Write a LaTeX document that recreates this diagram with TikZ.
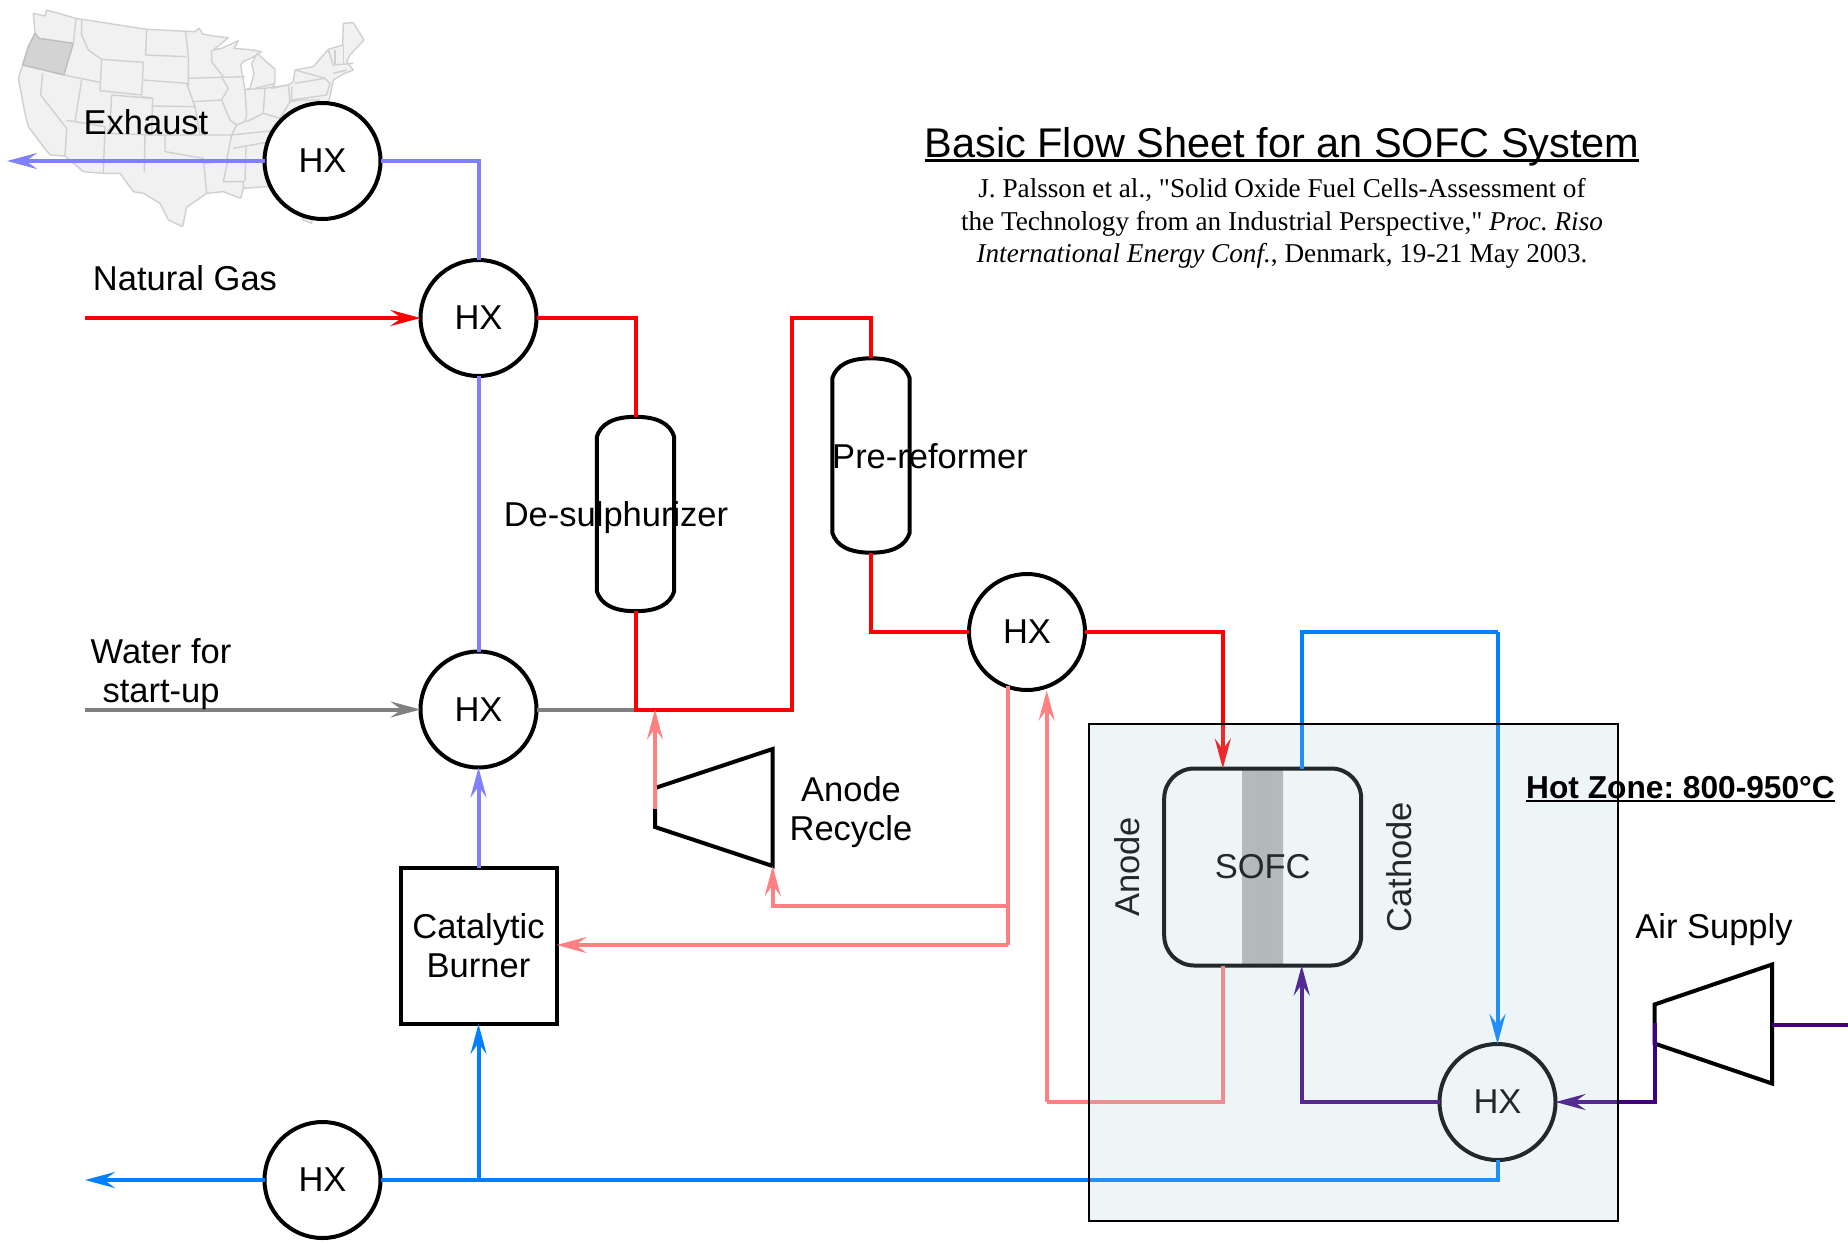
\documentclass[tikz,border=0pt]{standalone}
\usepackage{fontspec}
\setmainfont{Liberation Sans}
\newfontfamily\citefont{Liberation Serif}
\usepackage{xcolor}
\usepackage{tikz}
\usetikzlibrary{arrows.meta,positioning,calc}
\definecolor{exhaustcol}{RGB}{128,128,255}
\definecolor{gascol}{RGB}{255,0,0}
\definecolor{watercol}{RGB}{128,128,128}
\definecolor{recyclecol}{RGB}{255,128,128}
\definecolor{airhotcol}{RGB}{0,128,255}
\definecolor{aircol}{RGB}{64,0,128}
\definecolor{zonecol}{RGB}{165,205,215}
\definecolor{mapfill}{RGB}{241,241,241}
\definecolor{mapline}{RGB}{208,208,208}
\definecolor{oregonfill}{RGB}{211,211,211}
\definecolor{oregonline}{RGB}{190,190,190}
\definecolor{stripeedge}{RGB}{198,198,198}
\definecolor{stripemid}{RGB}{180,180,180}
\newcommand{\lowbar}[1]{\setbox0=\hbox{#1}\rlap{\rule[-0.11em]{\wd0}{0.075em}}\box0}
\newcommand{\vesselpath}[1]{%
  \draw[vesselline] ($(#1.north west)+(0,20)$) .. controls ($(#1.north west)+(4,7)$) and ($(#1.north)+(-22,0)$) .. (#1.north)
    .. controls ($(#1.north)+(22,0)$) and ($(#1.north east)+(-4,7)$) .. ($(#1.north east)+(0,20)$)
    -- ($(#1.south east)+(0,-20)$) .. controls ($(#1.south east)+(-4,-7)$) and ($(#1.south)+(22,0)$) .. (#1.south)
    .. controls ($(#1.south)+(-22,0)$) and ($(#1.south west)+(4,-7)$) .. ($(#1.south west)+(0,-20)$) -- cycle;}

\begin{document}
\frenchspacing
\begin{tikzpicture}[x=1pt,y=-1pt,>={Stealth[length=30pt,width=16pt,inset=11pt]},
    textlabel/.style={align=center,inner sep=0pt,font=\fontsize{34.5}{39}\selectfont},
    hxnode/.style={circle,draw=black,line width=4pt,fill=white,minimum size=116pt,inner sep=0pt,outer sep=0pt,
                   font=\fontsize{34.5}{39}\selectfont},
    vessel/.style={rectangle,minimum width=77pt,minimum height=194pt,inner sep=0pt},
    vesselline/.style={draw=black,fill=white,line width=4pt},
    machine/.style={draw=black,fill=white,line width=4pt,line join=miter},
    burner/.style={rectangle,draw=black,line width=4pt,fill=white,minimum size=156pt,inner sep=0pt,outer sep=0pt,
                   align=center,font=\fontsize{34.5}{39}\selectfont},
    sofcnode/.style={rectangle,rounded corners=30pt,draw=black,line width=4pt,fill=white,
                   minimum width=197pt,minimum height=197pt,inner sep=0pt,font=\fontsize{34.5}{39}\selectfont,
                   path picture={\shade[sharp corners,left color=stripeedge,right color=stripeedge,middle color=stripemid]
                     ([xshift=-20.3pt]path picture bounding box.north) rectangle ([xshift=20.3pt]path picture bounding box.south);}},
    zonebox/.style={rectangle,draw=black,line width=2pt,fill=zonecol,fill opacity=0.2,
                   minimum width=529pt,minimum height=497pt,inner sep=0pt},
    flow/.style={line width=4pt,line join=miter},
    exhaustflow/.style={flow,exhaustcol},
    gasflow/.style={flow,gascol},
    waterflow/.style={flow,watercol},
    recycleflow/.style={flow,recyclecol},
    hotairflow/.style={flow,airhotcol},
    airflow/.style={flow,aircol}]
\useasboundingbox (0,0) rectangle (1848,1243);

% map behind the exhaust stack
\begin{scope}[x=0.3333pt,y=-0.3333pt,draw=mapline,line width=1.4pt,line join=round]
\draw[fill=mapfill] (100,40) -- (135,48) -- (140,30) -- (228,55) -- (440,88) -- (585,95) -- (597,85) -- (608,102) -- (640,108) -- (685,113)
  -- (640,150) -- (665,145) -- (715,122) -- (702,145) -- (760,150) -- (785,155) -- (762,170) -- (730,185) -- (722,195) -- (735,270) -- (750,265)
  -- (762,222) -- (755,190) -- (772,160) -- (805,190) -- (825,207) -- (825,250) -- (815,265) -- (865,255) -- (880,245) -- (885,210) -- (940,200)
  -- (985,148) -- (1028,135) -- (1030,70) -- (1060,68) -- (1092,120) -- (1050,165) -- (1040,185) -- (1060,210) -- (1030,222) -- (1000,240)
  -- (990,290) -- (980,320) -- (1000,420) -- (950,560) -- (935,670) -- (910,660) -- (860,570) -- (800,560) -- (730,565) -- (722,595) -- (670,575) -- (620,580)
  -- (560,622) -- (548,680) -- (505,660) -- (480,610) -- (430,580) -- (400,575) -- (360,520) -- (310,520) -- (250,515) -- (195,468) -- (150,465)
  -- (130,440) -- (85,380) -- (75,340) -- (55,235) -- (68,195) -- (85,140) -- (105,100) -- cycle;
\draw[fill=oregonfill,draw=oregonline] (105,100) -- (118,115) -- (220,130) -- (205,180) -- (192,225) -- (68,195) -- (85,140) -- cycle;
\draw (228,55) -- (220,130);
\draw (245,60) -- (245,105) -- (265,150) -- (305,178) -- (430,187) -- (425,285) -- (300,272) -- (305,178);
\draw (192,225) -- (300,247);
\draw (128,220) -- (122,285) -- (200,385) -- (195,468);
\draw (245,240) -- (225,365) -- (200,362);
\draw (225,365) -- (315,380) -- (310,520);
\draw (335,285) -- (330,385) -- (318,400) -- (455,405) -- (458,295) -- (335,285);
\draw (435,405) -- (433,515);
\draw (440,88) -- (437,165) -- (560,170);
\draw (430,240) -- (560,250) -- (585,320) -- (455,318);
\draw (557,95) -- (565,170) -- (565,260);
\draw (425,290) -- (460,295);
\draw (585,320) -- (600,405) -- (455,405);
\draw (495,405) -- (495,455) -- (610,475) -- (620,580);
\draw (565,235) -- (665,232) -- (685,265) -- (665,300) -- (580,305);
\draw (665,300) -- (690,360) -- (710,375) -- (695,405) -- (600,405);
\draw (695,405) -- (680,480) -- (615,490);
\draw (685,475) -- (670,545) -- (730,545) -- (730,565);
\draw (635,150) -- (635,185) -- (670,230);
\draw (665,232) -- (735,230);
\draw (735,270) -- (740,345) -- (735,365) -- (710,375);
\draw (740,268) -- (795,265) -- (790,340) -- (740,365);
\draw (795,265) -- (865,255) -- (870,305) -- (840,355) -- (790,340);
\draw (765,265) -- (825,250);
\draw (695,405) -- (840,390) -- (810,425) -- (700,445);
\draw (738,442) -- (735,545);
\draw (870,305) -- (900,300) -- (960,300);
\draw (875,260) -- (875,300) -- (980,285) -- (990,250) -- (975,235) -- (885,250);
\draw (885,210) -- (975,235);
\draw (985,150) -- (1000,195) -- (1060,190);
\draw (1005,150) -- (1005,195);
\draw (1030,135) -- (1030,190);
\draw (1000,220) -- (1040,210);
\end{scope}

% heat exchangers and vessels
\node[hxnode] (hxexhaust) at (322.5,161) {HX};
\node[hxnode] (hxgas) at (478.5,318) {HX};
\node[hxnode] (hxwater) at (478.5,709.5) {HX};
\node[hxnode] (hxreform) at (1027,632) {HX};
\node[hxnode] (hxair) at (1497.5,1102) {HX};
\node[hxnode] (hxoutlet) at (322.5,1180) {HX};
\node[burner,below=100.5pt of hxwater] (burner) {Catalytic\\Burner};
\node[vessel] (desulph) at (635.5,514) {};
\node[vessel] (prereform) at (871,455.5) {};
\node[sofcnode] (sofc) at (1262.7,867) {SOFC};
\vesselpath{desulph}
\vesselpath{prereform}

% blowers
\coordinate (recyclea) at (655,788);
\coordinate (recycleb) at (772.7,749);
\coordinate (recyclec) at (772.7,866);
\coordinate (recycled) at (655,827);
\coordinate (recyclemid) at (655,809);
\coordinate (blowera) at (1654.5,1004.5);
\coordinate (blowerb) at (1772,964.5);
\coordinate (blowerc) at (1772,1083.5);
\coordinate (blowerd) at (1654.5,1043.5);
\coordinate (blowermid) at (1654.5,1023);
\coordinate (blowerout) at (1772,1024.5);
\draw[machine] (recyclea) -- (recycleb) -- (recyclec) -- (recycled) -- cycle;
\draw[machine] (blowera) -- (blowerb) -- (blowerc) -- (blowerd) -- cycle;

% free ends and bends
\coordinate (exhaustend) at (7,161);
\coordinate (gasstart) at (85,318);
\coordinate (waterstart) at (85,709.5);
\coordinate (outletend) at (85,1180);
\coordinate (airstart) at (1848,1024.5);
\coordinate (mixpoint) at (635.5,709.5);
\coordinate (risepoint) at (792,709.5);
\coordinate (risetop) at (792,318);
\coordinate (anodein) at (1222.8,768.5);
\coordinate (anodeout) at (1222.8,965.5);
\coordinate (cathodeout) at (1301.7,768.5);
\coordinate (cathodein) at (1301.7,965.5);
\coordinate (recycletap) at (1008,686);
\coordinate (tapupper) at (1008,906);
\coordinate (taplower) at (1008,945);
\coordinate (anodereturn) at (1046.7,690.5);
\coordinate (returncorner) at (1046.7,1102);
\coordinate (burnerfeed) at (478.5,1180);

% streams
\draw[exhaustflow,->] (hxexhaust.west) -- (exhaustend);
\draw[exhaustflow] (hxgas.north) |- (hxexhaust.east);
\draw[exhaustflow] (hxwater.north) -- (hxgas.south);
\draw[exhaustflow,->] (burner.north) -- (hxwater.south);
\draw[gasflow,->] (gasstart) -- (hxgas.west);
\draw[gasflow] (hxgas.east) -| (desulph.north);
\draw[waterflow,->] (waterstart) -- (hxwater.west);
\draw[waterflow] (hxwater.east) -- (mixpoint);
\draw[gasflow] (desulph.south) -- (mixpoint) -- (risepoint) -- (risetop) -| (prereform.north);
\draw[gasflow] (prereform.south) |- (hxreform.west);
\draw[gasflow,->] (hxreform.east) -| (anodein);
\draw[recycleflow,->] (recyclemid) -- (recyclemid |- mixpoint);
\draw[recycleflow,->] (tapupper) -| (recyclec);
\draw[recycleflow] (recycletap) -- (taplower);
\draw[recycleflow,->] (taplower) -- (burner.east |- taplower);
\draw[recycleflow] (anodeout) |- (returncorner);
\draw[recycleflow,->] (returncorner) -- (anodereturn);
\draw[hotairflow] (cathodeout) |- (hxair |- hxreform.east);
\draw[hotairflow,->] (hxair |- hxreform.east) -- (hxair.north);
\draw[hotairflow] (hxair.south) |- (hxoutlet.east);
\draw[hotairflow,->] (burnerfeed) -- (burner.south);
\draw[hotairflow,->] (hxoutlet.west) -- (outletend);
\draw[airflow,->] (hxair.west) -| (cathodein);
\draw[airflow,->] (blowermid) |- (hxair.east);
\draw[airflow] (airstart) -- (blowerout);

% texts
\node[textlabel] (exhaustlabel) at (146,122) {Exhaust};
\node[textlabel] (gaslabel) at (185,278) {Natural Gas};
\node[textlabel] (waterlabel) at (161,674.5) {Water for\\start-up};
\node[textlabel] (desulphlabel) at (616,517.5) {De-sulphurizer};
\node[textlabel] (prereformlabel) at (930,456) {Pre-reformer};
\node[textlabel] (recyclelabel) at (851,812.5) {Anode\\Recycle};
\node[textlabel] (airlabel) at (1714,929.5) {Air Supply};
\node[textlabel,rotate=90] (anodelabel) at (1127,867) {Anode};
\node[textlabel,rotate=90] (cathodelabel) at (1399,867) {Cathode};
\node[zonebox] (hotzone) at (1353.5,972) {};
\node[textlabel,font=\fontsize{31.7}{37}\selectfont\bfseries] (zonelabel) at (1680.5,789.5) {\lowbar{Hot Zone: 800-950°C}};
\node[textlabel,font=\fontsize{41.5}{46}\selectfont] (titlelabel) at (1282,146.5) {\lowbar{Basic Flow Sheet for an SOFC System}};
\node[align=center,inner sep=0pt,font=\fontsize{27.2}{32.5}\selectfont\citefont] (citelabel) at (1282,223.5)
  {J. Palsson et al., "Solid Oxide Fuel Cells-Assessment of\\
   the Technology from an Industrial Perspective," \textit{Proc. Riso}\\
   \textit{International Energy Conf.}, Denmark, 19-21 May 2003.};
\end{tikzpicture}
\end{document}
